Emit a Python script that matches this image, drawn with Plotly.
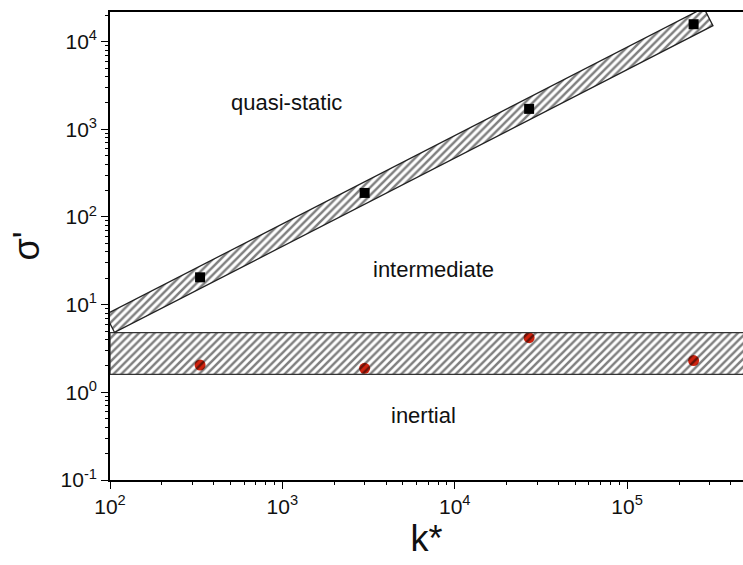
import numpy as np
import plotly.graph_objects as go

# Measured points
k_star = [333, 3000, 27000, 243000]
sigma_quasi = [20.5, 188, 1710, 15800]
sigma_inertial = [2.05, 1.88, 4.2, 2.3]

# Decade tick positions (exponents) for both axes
x_decades = [2, 3, 4, 5]
y_decades = [-1, 0, 1, 2, 3, 4]

# Inertial transition band (sigma' limits) and its k* extent
inertial_lo, inertial_hi = 1.6, 4.8
inertial_k = [100, 1e7]

# Quasi-static transition band: k* extent and half-thickness in px
quasi_k = [100, 2.96e5]
quasi_halfwidth_px = 10

# Figure geometry
W, H = 743, 565
M = dict(l=110, r=0, t=12, b=85)
x_range = [2, np.log10(4.7e5)]
y_range = [-1, 4.338]
px_per_dec_x = (W - M["l"] - M["r"]) / (x_range[1] - x_range[0])
px_per_dec_y = (H - M["t"] - M["b"]) / (y_range[1] - y_range[0])

# Power-law fit of the quasi-static points (log-log)
lk = np.log10(k_star)
ls = np.log10(sigma_quasi)
slope, icpt = np.polyfit(lk, ls, 1)

# Rotated rectangle around the fitted line (perpendicular end caps on screen)
cx = np.log10(quasi_k)
cy = icpt + slope * cx
d = np.array([px_per_dec_x, slope * px_per_dec_y])
d /= np.linalg.norm(d)
n = np.array([-d[1], d[0]])
ox = n[0] * quasi_halfwidth_px / px_per_dec_x
oy = n[1] * quasi_halfwidth_px / px_per_dec_y
band_x = [cx[0] + ox, cx[1] + ox, cx[1] - ox, cx[0] - ox, cx[0] + ox]
band_y = [cy[0] + oy, cy[1] + oy, cy[1] - oy, cy[0] - oy, cy[0] + oy]

FONT = "Arial, Liberation Sans, sans-serif"
hatch = dict(shape="/", size=5.5, solidity=0.45, fgcolor="black",
             bgcolor="rgba(0,0,0,0)")

fig = go.Figure()

fig.add_trace(go.Scatter(
    x=k_star, y=sigma_quasi, mode="markers",
    marker=dict(symbol="square", size=10, color="black"),
    showlegend=False))
fig.add_trace(go.Scatter(
    x=k_star, y=sigma_inertial, mode="markers",
    marker=dict(symbol="circle", size=11, color="#d0220e"),
    showlegend=False))

# Hatched bands drawn over the markers
fig.add_trace(go.Scatter(
    x=[inertial_k[0], inertial_k[1], inertial_k[1], inertial_k[0], inertial_k[0]],
    y=[inertial_lo, inertial_lo, inertial_hi, inertial_hi, inertial_lo],
    mode="lines", fill="toself", fillcolor="rgba(0,0,0,0)",
    fillpattern=hatch, line=dict(color="#333333", width=1.3),
    hoverinfo="skip", showlegend=False))
fig.add_trace(go.Scatter(
    x=10 ** np.array(band_x), y=10 ** np.array(band_y),
    mode="lines", fill="toself", fillcolor="rgba(0,0,0,0)",
    fillpattern=hatch, line=dict(color="#222222", width=1.3),
    hoverinfo="skip", showlegend=False))

# Invisible carrier so the minor-tick overlay axes are laid out
fig.add_trace(go.Scatter(
    x=k_star, y=sigma_quasi, mode="markers", marker=dict(opacity=0),
    xaxis="x2", yaxis="y2", hoverinfo="skip", showlegend=False))

regions = [
    ("quasi-static", 1060, 2000),
    ("intermediate", 7550, 25.5),
    ("inertial", 6600, 0.55),
]
for txt, xk, ys in regions:
    fig.add_annotation(x=np.log10(xk), y=np.log10(ys), xref="x", yref="y",
                       text=txt, showarrow=False,
                       font=dict(family=FONT, size=22, color="#111111"))


def decade_ticks(exps):
    vals = [10.0 ** e for e in exps]
    text = [f"10<sup>{e}</sup>" for e in exps]
    return vals, text


def minor_vals(exps):
    lo, hi = exps[0], exps[-1] + 1
    return [m * 10.0 ** e for e in range(lo, hi) for m in range(2, 10)]


axis_common = dict(
    type="log", showgrid=False,
    zeroline=False, showline=True, linecolor="black", linewidth=1.6,
    tickmode="array",
    ticks="outside", ticklen=7, tickwidth=1.4, tickcolor="black",
    tickfont=dict(family=FONT, size=21, color="#111111"),
)

minor_common = dict(
    type="log", showgrid=False, zeroline=False, showline=False,
    tickmode="array", ticks="outside", ticklen=4, tickwidth=1.2,
    tickcolor="black", showticklabels=False,
)

xv, xt = decade_ticks(x_decades)
yv, yt = decade_ticks(y_decades)

fig.update_layout(
    width=W, height=H, margin=M,
    paper_bgcolor="white", plot_bgcolor="white",
    xaxis=dict(range=x_range, mirror=True, tickvals=xv, ticktext=xt,
               title=dict(text="k*", font=dict(family=FONT, size=36, color="#111111"),
                          standoff=4),
               **axis_common),
    yaxis=dict(range=y_range, tickvals=yv, ticktext=yt,
               title=dict(text="σ'", font=dict(family=FONT, size=36, color="#111111"),
                          standoff=10),
               **axis_common),
    xaxis2=dict(overlaying="x", side="bottom", anchor="y2", range=x_range,
                tickvals=minor_vals(x_decades), **minor_common),
    yaxis2=dict(overlaying="y", side="left", anchor="x2", range=y_range,
                tickvals=minor_vals(y_decades), **minor_common),
)

fig.write_html("out.html")
